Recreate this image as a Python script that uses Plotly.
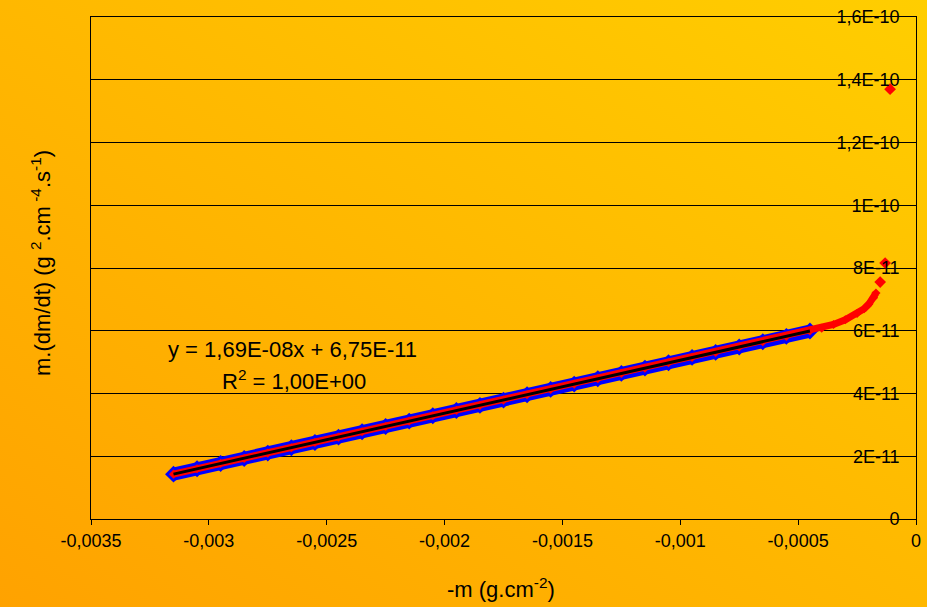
import base64
import plotly.graph_objects as go

# ---- data ----
lin_x = [-0.00315, -0.00305, -0.00295, -0.00285, -0.00275, -0.00265, -0.00255,
         -0.00245, -0.00235, -0.00225, -0.00215, -0.00205, -0.00195, -0.00185,
         -0.00175, -0.00165, -0.00155, -0.00145, -0.00135, -0.00125, -0.00115,
         -0.00105, -0.00095, -0.00085, -0.00075, -0.00065, -0.00055, -0.00045]
lin_y = [1.43e-11, 1.60e-11, 1.77e-11, 1.93e-11, 2.10e-11, 2.27e-11, 2.44e-11,
         2.61e-11, 2.78e-11, 2.95e-11, 3.12e-11, 3.29e-11, 3.46e-11, 3.62e-11,
         3.79e-11, 3.96e-11, 4.13e-11, 4.30e-11, 4.47e-11, 4.64e-11, 4.81e-11,
         4.98e-11, 5.15e-11, 5.31e-11, 5.48e-11, 5.65e-11, 5.82e-11, 5.99e-11]

tail_x = [-0.00045, -0.00040, -0.00035, -0.00030, -0.00025, -0.00022, -0.00020,
          -0.00018, -0.00017]
tail_y = [5.99e-11, 6.08e-11, 6.20e-11, 6.35e-11, 6.55e-11, 6.70e-11, 6.85e-11,
          7.05e-11, 7.20e-11]

outlier_x = [-0.000152, -0.000131, -0.000110]
outlier_y = [7.55e-11, 8.16e-11, 1.37e-10]

trend_x = [-0.00315, -0.00045]
trend_y = [1.43e-11, 5.99e-11]

x_ticks = [-0.0035, -0.003, -0.0025, -0.002, -0.0015, -0.001, -0.0005, 0]
x_labels = ["-0,0035", "-0,003", "-0,0025", "-0,002", "-0,0015", "-0,001", "-0,0005", "0"]
y_ticks = [0, 2e-11, 4e-11, 6e-11, 8e-11, 1e-10, 1.2e-10, 1.4e-10, 1.6e-10]
y_labels = ["0", "2E-11", "4E-11", "6E-11", "8E-11", "1E-10", "1,2E-10", "1,4E-10", "1,6E-10"]

eq_text = "y = 1,69E-08x + 6,75E-11"
r2_text = "R<sup>2</sup> = 1,00E+00"
x_title = "-m (g.cm<sup>-2</sup>)"
y_title = "m.(dm/dt) (g <sup>2</sup>.cm<sup> -4</sup>.s<sup>-1</sup>)"

# ---- figure ----
W, H = 927, 607
L, R, T, B = 91, 11, 17, 88
pw, ph = W - L - R, H - T - B

FONT = "Liberation Sans, Arial, sans-serif"
FS = 18
FS_BIG = 22

svg = (f"<svg xmlns='http://www.w3.org/2000/svg' width='{W}' height='{H}' "
       f"viewBox='0 0 {W} {H}' preserveAspectRatio='none'>"
       "<defs><linearGradient id='g' x1='0' y1='1' x2='1' y2='0'>"
       "<stop offset='0' stop-color='#FFA200'/>"
       "<stop offset='1' stop-color='#FFCE00'/>"
       "</linearGradient></defs>"
       f"<rect width='{W}' height='{H}' fill='url(#g)'/></svg>")
bg_src = "data:image/svg+xml;base64," + base64.b64encode(svg.encode()).decode()

fig = go.Figure()
fig.add_trace(go.Scatter(x=lin_x, y=lin_y, mode="lines+markers",
                         line=dict(color="#0000FF", width=13),
                         marker=dict(symbol="diamond", size=13, color="#0000FF"),
                         showlegend=False, hoverinfo="skip"))
fig.add_trace(go.Scatter(x=lin_x + tail_x[1:], y=lin_y + tail_y[1:], mode="lines+markers",
                         line=dict(color="#FF0000", width=7),
                         marker=dict(symbol="diamond", size=7, color="#FF0000"),
                         showlegend=False, hoverinfo="skip"))
fig.add_trace(go.Scatter(x=outlier_x, y=outlier_y, mode="markers",
                         marker=dict(symbol="diamond", size=9, color="#FF0000"),
                         showlegend=False, hoverinfo="skip"))
fig.add_trace(go.Scatter(x=trend_x, y=trend_y, mode="lines",
                         line=dict(color="#000000", width=3),
                         showlegend=False, hoverinfo="skip"))

fig.update_layout(
    width=W, height=H,
    margin=dict(l=L, r=R, t=T, b=B, autoexpand=False),
    paper_bgcolor="#FFB800",
    plot_bgcolor="rgba(0,0,0,0)",
    font=dict(family=FONT, size=FS, color="#000000"),
    images=[dict(source=bg_src, xref="paper", yref="paper",
                 x=-L / pw, y=1 + T / ph, sizex=W / pw, sizey=H / ph,
                 xanchor="left", yanchor="top", sizing="stretch", layer="below")],
    xaxis=dict(range=[-0.0035, 0], tickvals=x_ticks, ticktext=x_labels,
               showgrid=False, zeroline=False, showline=True, linecolor="#000000",
               linewidth=1, mirror=True, ticks="outside", ticklen=5,
               tickcolor="#000000", tickfont=dict(family=FONT, size=FS, color="#000000"),
               automargin=False),
    yaxis=dict(range=[0, 1.6e-10], tickvals=y_ticks, ticktext=y_labels,
               side="right", ticklabelposition="inside", ticklabeloverflow="allow",
               ticklabelstandoff=17,
               showgrid=True, gridcolor="#000000", gridwidth=1,
               zeroline=False, showline=True, linecolor="#000000", linewidth=1,
               mirror=True, ticks="", tickcolor="#000000",
               tickfont=dict(family=FONT, size=FS, color="#000000"), automargin=False),
    annotations=[
        dict(text=eq_text, xref="paper", yref="paper",
             x=(292 - L) / pw, y=(H - B - 349) / ph, xanchor="center", yanchor="middle",
             showarrow=False, font=dict(family=FONT, size=FS_BIG, color="#000000")),
        dict(text=r2_text, xref="paper", yref="paper",
             x=(294 - L) / pw, y=(H - B - 380) / ph, xanchor="center", yanchor="middle",
             showarrow=False, font=dict(family=FONT, size=FS_BIG, color="#000000")),
        dict(text=x_title, xref="paper", yref="paper",
             x=(501 - L) / pw, y=(H - B - 588) / ph, xanchor="center", yanchor="middle",
             showarrow=False, font=dict(family=FONT, size=FS_BIG, color="#000000")),
        dict(text=y_title, xref="paper", yref="paper", textangle=-90,
             x=(41 - L) / pw, y=(H - B - 263) / ph, xanchor="center", yanchor="middle",
             showarrow=False, font=dict(family=FONT, size=FS_BIG, color="#000000")),
    ],
)

fig.write_html("out.html", config={"displayModeBar": False},
               post_script="document.body.style.margin='0';document.body.style.padding='0';")
